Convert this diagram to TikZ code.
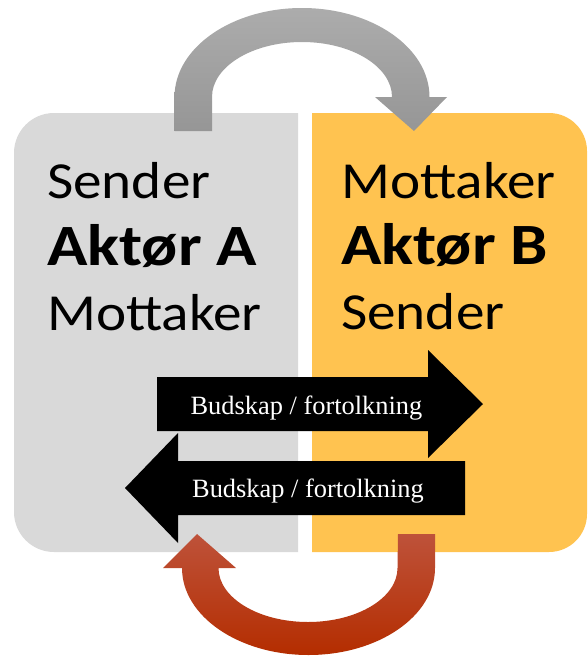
\documentclass[tikz,border=0pt]{standalone}
\usepackage{fontspec}
\setmainfont{Carlito}
\newfontfamily\tnr{Liberation Serif}
\definecolor{boxgray}{RGB}{217,217,217}
\definecolor{boxyellow}{RGB}{255,195,80}
\definecolor{arcgraytop}{RGB}{172,172,172}
\definecolor{arcgraybot}{RGB}{150,150,150}
\definecolor{arcredtop}{RGB}{190,82,58}
\definecolor{arcredbot}{RGB}{180,45,0}
\newcommand{\regtext}[1]{\scalebox{1.10}[1]{\fontsize{52}{52}\selectfont #1}}
\newcommand{\boldtext}[1]{\scalebox{1.14}[1]{\fontsize{58.5}{58.5}\selectfont\bfseries #1}}
\begin{document}
\begin{tikzpicture}[x=1pt,y=-1pt,
  bigtext/.style={anchor=base west,inner sep=0pt},
  msgtext/.style={anchor=base,inner sep=0pt,text=white,font=\tnr\fontsize{26.4}{26.4}\selectfont},
  msgarrow/.style={fill=black}]
\useasboundingbox (0,0) rectangle (587,656);
% boxes
\fill[boxgray] (298,113) -- (54,113) arc[start angle=270,end angle=180,radius=40] -- (14,512)
  arc[start angle=180,end angle=90,radius=40] -- (298,552) -- cycle;
\fill[boxyellow] (312,113) -- (549,113) arc[start angle=270,end angle=360,radius=38] -- (587,514)
  arc[start angle=0,end angle=90,radius=38] -- (312,552) -- cycle;
% top gray curved arrow
\shade[top color=arcgraytop,bottom color=arcgraybot]
  (174.5,131) -- (174.5,97) arc[start angle=180,end angle=360,x radius=127.5,y radius=89]
  -- (447,97) -- (414,131) -- (375,97) -- (392,97)
  arc[start angle=360,end angle=180,x radius=90,y radius=55] -- (212,131) -- cycle;
% bottom red curved arrow
\shade[top color=arcredtop,bottom color=arcredbot]
  (435,534) -- (435,568) arc[start angle=0,end angle=180,x radius=126.5,y radius=87]
  -- (163,568) -- (197,534) -- (236,568) -- (218.5,568)
  arc[start angle=180,end angle=0,x radius=89.5,y radius=54] -- (398,534) -- cycle;
% texts
\node[bigtext] (a1) at (47,198) {\regtext{Sender}};
\node[bigtext] (a2) at (47,265) {\boldtext{Aktør A}};
\node[bigtext] (a3) at (47,330) {\regtext{Mottaker}};
\node[bigtext] (b1) at (341,198) {\regtext{Mottaker}};
\node[bigtext] (b2) at (341,264) {\boldtext{Aktør B}};
\node[bigtext] (b3) at (341,329) {\regtext{Sender}};
% black message arrows
\fill[msgarrow] (157,377) -- (428,377) -- (428,350) -- (483,404) -- (428,458) -- (428,431) -- (157,431) -- cycle;
\node[msgtext] (m1) at (306.5,414) {Budskap / fortolkning};
\fill[msgarrow] (465,461) -- (178,461) -- (178,433) -- (125,488) -- (178,543) -- (178,515) -- (465,515) -- cycle;
\node[msgtext] (m2) at (308,497) {Budskap / fortolkning};
\end{tikzpicture}
\end{document}
